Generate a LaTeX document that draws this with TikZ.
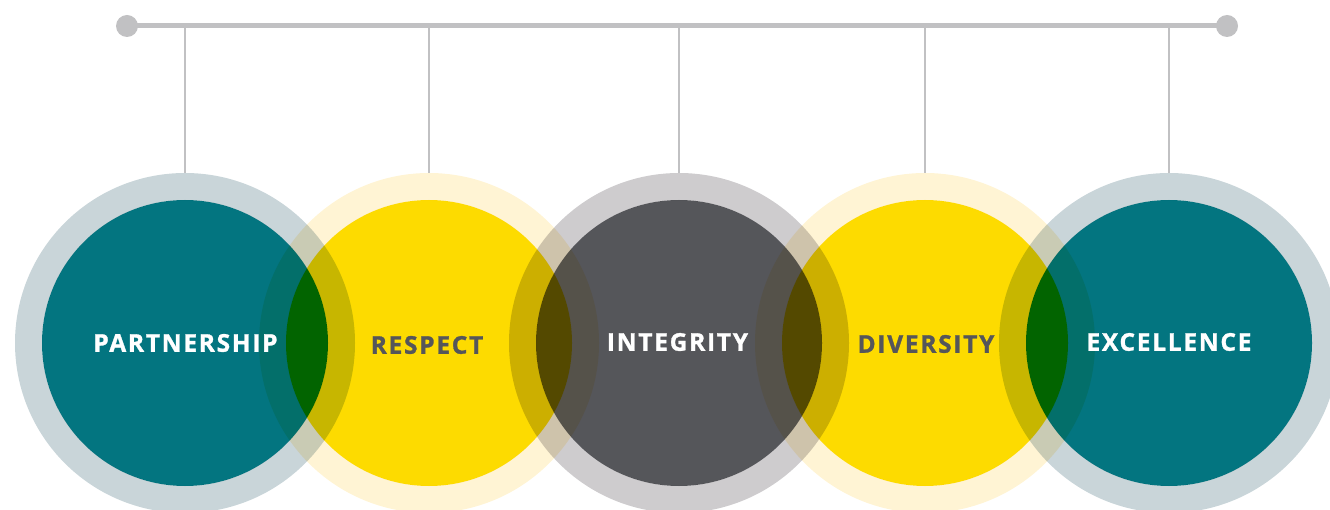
\documentclass[tikz,border=0pt]{standalone}
\usepackage{fontspec}
\newfontfamily\valuefont{Open Sans}[LetterSpace=7, BoldFeatures={FakeBold=1.2}]
\definecolor{tealcore}{RGB}{3,117,128}
\definecolor{tealring}{RGB}{201,213,217}
\definecolor{goldcore}{RGB}{253,219,0}
\definecolor{goldring}{RGB}{255,244,212}
\definecolor{slatecore}{RGB}{85,86,90}
\definecolor{slatering}{RGB}{206,204,206}
\definecolor{stemgray}{RGB}{193,193,195}
\tikzset{
	hub/.style={circle, minimum size=340pt, inner sep=0pt},
	valuetext/.style={font=\valuefont\bfseries\fontsize{24.5}{27}\selectfont},
	stem/.style={stemgray, line width=2pt},
}

\begin{document}
\begin{tikzpicture}[x=1pt, y=-1pt]
			\useasboundingbox (0,0) rectangle (1330,510);
			\clip (0,0) rectangle (1330,510);
			
			% centres of the five values
			\node[hub] (ring1) at (185,343) {};
			\node[hub] (ring2) at (429,343) {};
			\node[hub] (ring3) at (679,343) {};
			\node[hub] (ring4) at (925,343) {};
			\node[hub] (ring5) at (1169,343) {};
			
			% outer rings
			\fill[tealring, blend mode=multiply, even odd rule] (ring1.center) circle[radius=170pt] circle[radius=143pt];
			\fill[goldring, blend mode=multiply, even odd rule] (ring2.center) circle[radius=170pt] circle[radius=143pt];
			\fill[slatering, blend mode=multiply, even odd rule] (ring3.center) circle[radius=170pt] circle[radius=143pt];
			\fill[goldring, blend mode=multiply, even odd rule] (ring4.center) circle[radius=170pt] circle[radius=143pt];
			\fill[tealring, blend mode=multiply, even odd rule] (ring5.center) circle[radius=170pt] circle[radius=143pt];
			
			% inner discs
			\fill[tealcore, blend mode=multiply] (ring1.center) circle[radius=143pt];
			\fill[goldcore, blend mode=multiply] (ring2.center) circle[radius=143pt];
			\fill[slatecore, blend mode=multiply] (ring3.center) circle[radius=143pt];
			\fill[goldcore, blend mode=multiply] (ring4.center) circle[radius=143pt];
			\fill[tealcore, blend mode=multiply] (ring5.center) circle[radius=143pt];
			
			% labels
			\node[valuetext, white] (partnership) at (185.5,343) {PARTNERSHIP};
			\node[valuetext, slatecore] (respect) at (427,345) {RESPECT};
			\node[valuetext, white] (integrity) at (677.5,342) {INTEGRITY};
			\node[valuetext, slatecore] (diversity) at (926,344) {DIVERSITY};
			\node[valuetext, white] (excellence) at (1169,342) {EXCELLENCE};
			
			% hanging bar
			\coordinate (barL) at (127,26);
			\coordinate (barR) at (1227,26);
			\draw[stemgray, line width=5pt] (barL) -- (barR);
			\fill[stemgray] (barL) circle[radius=11pt];
			\fill[stemgray] (barR) circle[radius=11pt];
			\draw[stem] (ring1.north |- barL) -- (ring1.north);
			\draw[stem] (ring2.north |- barL) -- (ring2.north);
			\draw[stem] (ring3.north |- barL) -- (ring3.north);
			\draw[stem] (ring4.north |- barL) -- (ring4.north);
			\draw[stem] (ring5.north |- barL) -- (ring5.north);
		\end{tikzpicture}
\end{document}
